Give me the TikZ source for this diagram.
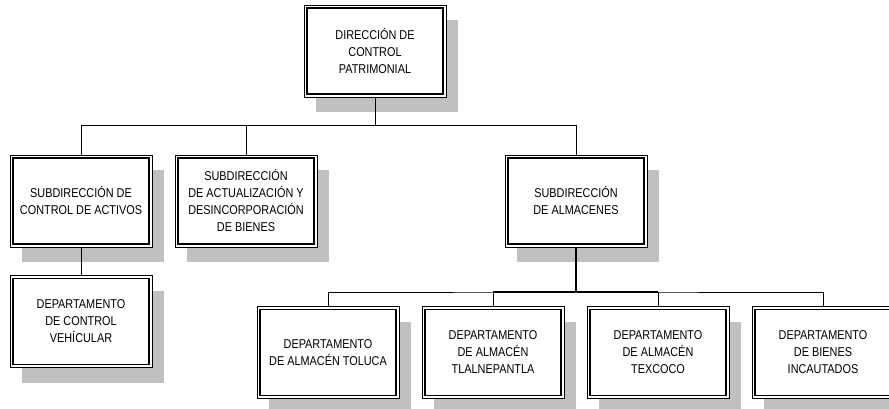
\documentclass[tikz,border=0pt]{standalone}
\usepackage{fontspec}
\setmainfont{Liberation Sans}[FakeStretch=0.85]
\usetikzlibrary{shadows}

\definecolor{shadowgray}{RGB}{192,192,192}

\tikzset{
  orgbox/.style={draw, line width=0.7pt, fill=white, rectangle,
    minimum width=142pt, minimum height=92pt, inner sep=0pt, align=center,
    font=\fontsize{12.8}{17}\selectfont,
    drop shadow={shadow xshift=12pt, shadow yshift=-15pt, fill=shadowgray, opacity=1},
    path picture={\draw[line width=1.2pt]
      ([shift={(3pt,-3pt)}]path picture bounding box.north west) rectangle
      ([shift={(-3pt,3pt)}]path picture bounding box.south east);}},
  link/.style={draw, line width=0.8pt},
  boldlink/.style={draw, line width=1.6pt}
}

\begin{document}
\begin{tikzpicture}[x=1pt, y=-1pt]

\useasboundingbox (0,0) rectangle (889,409);
\clip (0,0) rectangle (889,409);

% Direction
\node[orgbox] (dir) at (375,51) {DIRECCIÓN DE\\CONTROL\\PATRIMONIAL};

% Subdirections
\node[orgbox] (activos) at (81,201) {SUBDIRECCIÓN DE\\CONTROL DE ACTIVOS};
\node[orgbox] (bienes) at (246,201) {SUBDIRECCIÓN\\DE ACTUALIZACIÓN Y\\DESINCORPORACIÓN\\DE BIENES};
\node[orgbox] (almacenes) at (576,201) {SUBDIRECCIÓN\\DE ALMACENES};

% Departments
\node[orgbox] (vehicular) at (81,321.5) {DEPARTAMENTO\\DE CONTROL\\VEHÍCULAR};
\node[orgbox] (toluca) at (328,352.5) {DEPARTAMENTO\\DE ALMACÉN TOLUCA};
\node[orgbox] (tlalne) at (493,352.5) {DEPARTAMENTO\\DE ALMACÉN\\TLALNEPANTLA};
\node[orgbox] (texcoco) at (658,352.5) {DEPARTAMENTO\\DE ALMACÉN\\TEXCOCO};
\node[orgbox] (incaut) at (823,352.5) {DEPARTAMENTO\\DE BIENES\\INCAUTADOS};

% Connectors
\coordinate (topbus) at (375,125.5);
\coordinate (lowbus) at (576,292);
\path[link] (dir.south) -- (topbus);
\path[link] (activos.north) |- (topbus) -| (almacenes.north);
\path[link] (bienes.north) -- (bienes.north |- topbus);
\path[link] (activos.south) -- (vehicular.north);
\path[boldlink] (almacenes.south) -- (lowbus);
\path[link] (toluca.north) |- (lowbus) -| (incaut.north);
\path[boldlink] (tlalne.north |- lowbus) -- (texcoco.north |- lowbus);
\path[link] (tlalne.north) -- (tlalne.north |- lowbus);
\path[link] (texcoco.north) -- (texcoco.north |- lowbus);

\end{tikzpicture}
\end{document}
